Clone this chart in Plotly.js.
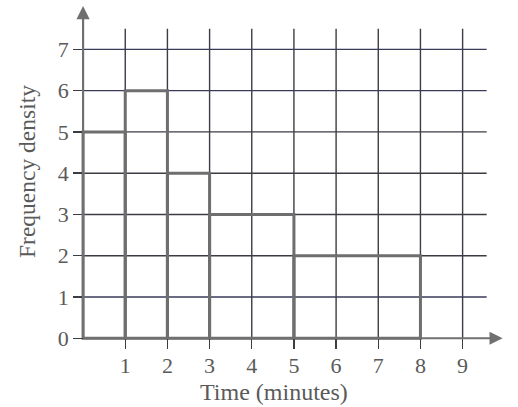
<!DOCTYPE html>
<html>
<head>
<meta charset="utf-8">
<script src="https://cdn.plot.ly/plotly-3.0.1.min.js"></script>
<style>html,body{margin:0;padding:0;background:#fff;}#chart{width:518px;height:407px;}</style>
</head>
<body>
<div id="chart"></div>
<script>
// Data
const binEdges = [0, 1, 2, 3, 5, 8];
const freqDensity = [5, 6, 4, 3, 2];
const xTickVals = [1, 2, 3, 4, 5, 6, 7, 8, 9];
const xTickText = ["1", "2", "3", "4", "5", "6", "7", "8", "9"];
const yTickVals = [0, 1, 2, 3, 4, 5, 6, 7];
const yTickText = ["0", "1", "2", "3", "4", "5", "6", "7"];
const xTitle = "Time (minutes)";
const yTitle = "Frequency density";

const xRange = [-0.5, 10.1];
const yRange = [-0.6, 8.1];
const gridTop = 7.5, gridRight = 9.57;

const mids = [], widths = [];
for (let i = 0; i < freqDensity.length; i++) {
  mids.push((binEdges[i] + binEdges[i + 1]) / 2);
  widths.push(binEdges[i + 1] - binEdges[i]);
}

const gridColor = '#3c3c44';
const textColor = '#5a5a5a';
const shapes = [];
xTickVals.forEach(v => shapes.push({type: 'line', xref: 'x', yref: 'y', x0: v, x1: v, y0: 0, y1: gridTop,
  line: {color: gridColor, width: 1.4}, layer: 'below'}));
yTickVals.filter(v => v > 0).forEach(v => shapes.push({type: 'line', xref: 'x', yref: 'y', x0: 0, x1: gridRight, y0: v, y1: v,
  line: {color: (v === 1 || v === 6 || v === 7) ? '#3a3a5a' : gridColor, width: 1.4}, layer: 'below'}));

const traces = [{
  type: 'bar', x: mids, y: freqDensity, width: widths,
  marker: {color: 'rgba(255,255,255,0)', line: {color: '#6e6e6e', width: 3}},
  hoverinfo: 'x+y', showlegend: false
}];

const font = {family: '"Liberation Serif", "DejaVu Serif", serif', color: textColor};
const tf = Object.assign({size: 22}, font);

const layout = {
  width: 518, height: 407,
  margin: {l: 62, r: 9, t: 4, b: 44},
  paper_bgcolor: '#fff', plot_bgcolor: '#fff',
  showlegend: false,
  font: tf,
  xaxis: {
    range: xRange, anchor: 'free', position: (0 - yRange[0]) / (yRange[1] - yRange[0]),
    tickvals: xTickVals, ticktext: xTickText,
    ticks: 'outside', ticklen: 10, tickwidth: 1.4, tickcolor: gridColor,
    ticklabelstandoff: -3,
    showgrid: false, zeroline: false, showline: false,
    tickfont: tf
  },
  yaxis: {
    range: yRange, anchor: 'free', position: (0 - xRange[0]) / (xRange[1] - xRange[0]),
    tickvals: yTickVals, ticktext: yTickText,
    ticks: 'outside', ticklen: 10, tickwidth: 1.4, tickcolor: gridColor,
    showgrid: false, zeroline: false, showline: false,
    tickfont: tf
  },
  shapes: shapes,
  annotations: [
    {xref: 'x', yref: 'y', axref: 'x', ayref: 'y', x: 9.95, y: 0, ax: 0, ay: 0, text: '',
     showarrow: true, arrowhead: 2, arrowsize: 1.2, arrowwidth: 2.2, arrowcolor: '#707070', standoff: 0},
    {xref: 'x', yref: 'y', axref: 'x', ayref: 'y', x: 0, y: 8.05, ax: 0, ay: 0, text: '',
     showarrow: true, arrowhead: 2, arrowsize: 1.2, arrowwidth: 2.2, arrowcolor: '#707070', standoff: 0},
    {xref: 'paper', yref: 'paper', x: (274 - 62) / 447, y: (363 - 392) / 359, xanchor: 'center', yanchor: 'middle',
     text: xTitle, showarrow: false, font: Object.assign({size: 24}, font)},
    {xref: 'paper', yref: 'paper', x: (27 - 62) / 447, y: (363 - 172) / 359, xanchor: 'center', yanchor: 'middle',
     text: yTitle, textangle: -90, showarrow: false, font: Object.assign({size: 23.5}, font)}
  ],
  bargap: 0
};

Plotly.newPlot('chart', traces, layout, {displayModeBar: false, staticPlot: true});
</script>
</body>
</html>
